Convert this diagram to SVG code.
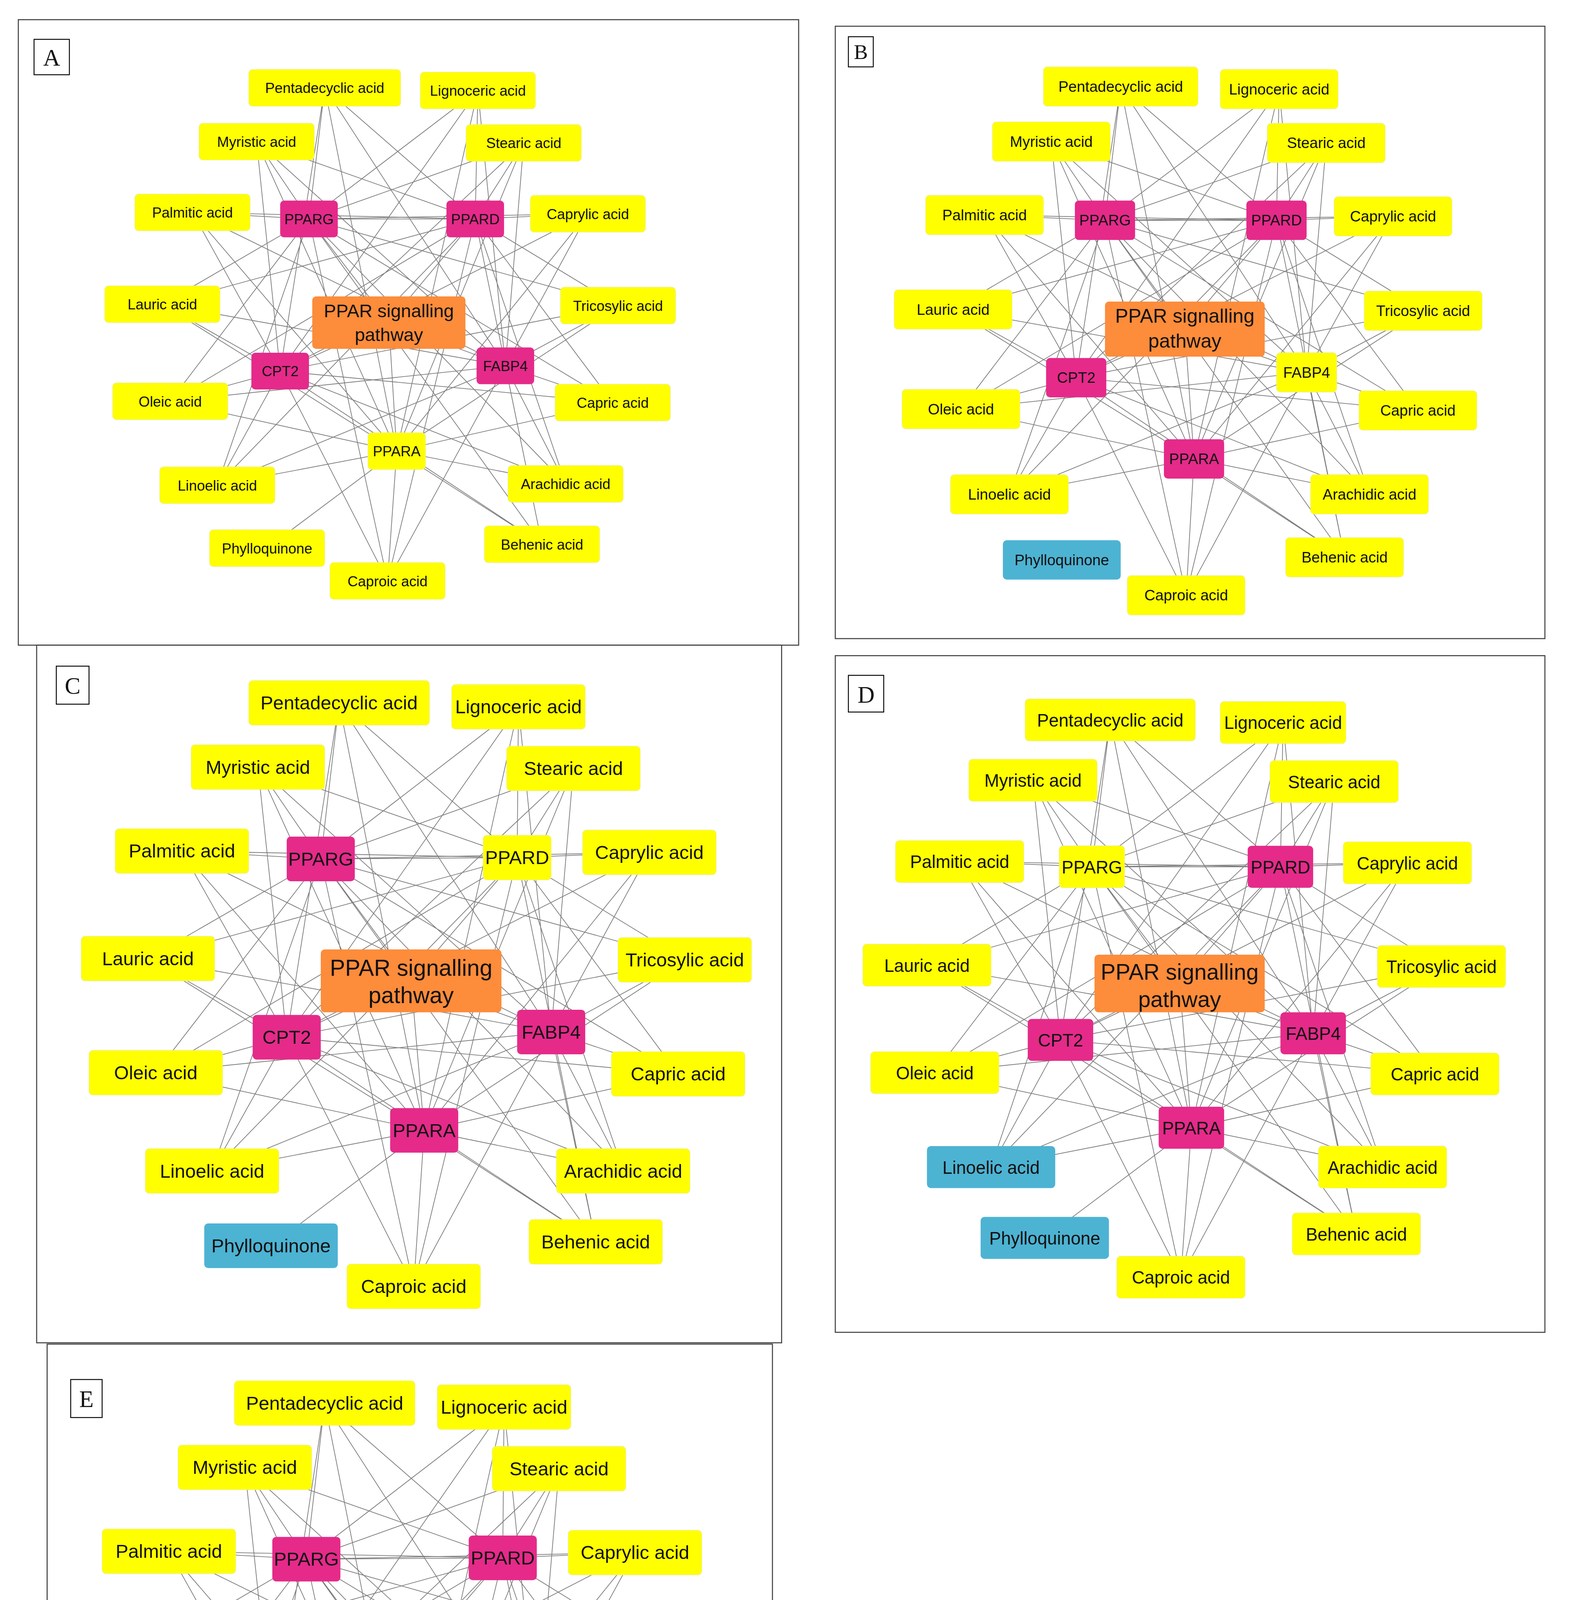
<svg xmlns="http://www.w3.org/2000/svg" width="4021" height="5264" viewBox="0 0 4021 5264">
<style>
.fr{fill:none;stroke:#444;stroke-width:0.8}
.lb{fill:#fff;stroke:#000;stroke-width:0.7}
.lt{font-family:"Liberation Serif",serif;text-anchor:middle}
.e{fill:none;stroke:#7c7c7c;stroke-width:0.55}
.y{fill:#ffff00;stroke:#eeee88;stroke-width:0.4}
.p{fill:#e52a8a}
.b{fill:#4db3d3}
.o{fill:#fd8c3b}
text{font-family:"Liberation Sans",Arial,sans-serif;text-anchor:middle;fill:#111}
.sa{font-size:11px}.sb{font-size:11.5px}.sc{font-size:14.5px}.sd{font-size:13.5px}
</style>
<rect width="4021" height="5264" fill="#fff"/>
<g transform="scale(3.351,3.357)">
<g id="frames">
<rect class="fr" x="14" y="15" width="596" height="477"/>
<rect class="fr" x="638" y="20" width="542" height="467"/>
<rect class="fr" x="28" y="492" width="569" height="532"/>
<rect class="fr" x="638" y="500" width="542" height="516"/>
<rect class="fr" x="36" y="1025" width="554" height="531"/>
<rect class="lb" x="26" y="30" width="27" height="27"/><text class="lt" x="39.5" y="50" font-size="18">A</text>
<rect class="lb" x="648" y="28" width="19" height="23"/><text class="lt" x="657.5" y="45" font-size="16">B</text>
<rect class="lb" x="43" y="508" width="25" height="29"/><text class="lt" x="55.5" y="529" font-size="18">C</text>
<rect class="lb" x="648" y="515" width="27" height="28"/><text class="lt" x="661.5" y="536" font-size="18">D</text>
<rect class="lb" x="54" y="1052" width="24" height="29"/><text class="lt" x="66" y="1073" font-size="18">E</text>
</g>
<g id="connectors">
<path class="e" d="M248,67L236,167M248,67L363,167M248,67L214,283M248,67L386,279M248,67L303,344M365,69L236,167M365,69L363,167M365,69L214,283M365,69L386,279M365,69L303,344M196,108L236,167M196,108L363,167M196,108L214,283M196,108L386,279M196,108L303,344M400,109L236,167M400,109L363,167M400,109L214,283M400,109L386,279M400,109L303,344M147,162L236,167M147,162L363,167M147,162L214,283M147,162L386,279M147,162L303,344M449,163L236,167M449,163L363,167M449,163L214,283M449,163L386,279M449,163L303,344M124,232L236,167M124,232L363,167M124,232L214,283M124,232L386,279M124,232L303,344M472,233L236,167M472,233L363,167M472,233L214,283M472,233L386,279M472,233L303,344M130,306L236,167M130,306L363,167M130,306L214,283M130,306L386,279M130,306L303,344M468,307L236,167M468,307L363,167M468,307L214,283M468,307L386,279M468,307L303,344M166,370L236,167M166,370L363,167M166,370L214,283M166,370L386,279M166,370L303,344M432,369L236,167M432,369L363,167M432,369L214,283M432,369L386,279M432,369L303,344M414,415L236,167M414,415L363,167M414,415L214,283M414,415L386,279M414,415L303,344M296,443L236,167M296,443L363,167M296,443L214,283M296,443L386,279M296,443L303,344M204,418L303,344M236,167L363,167M236,167L297,246M363,167L297,246M214,283L297,246M386,279L297,246M303,344L297,246"/>
<path class="e" d="M856,66L844,168M856,66L975,168M856,66L822,288M856,66L998,284M856,66L912,350M977,68L844,168M977,68L975,168M977,68L822,288M977,68L998,284M977,68L912,350M803,108L844,168M803,108L975,168M803,108L822,288M803,108L998,284M803,108L912,350M1013,109L844,168M1013,109L975,168M1013,109L822,288M1013,109L998,284M1013,109L912,350M752,164L844,168M752,164L975,168M752,164L822,288M752,164L998,284M752,164L912,350M1064,165L844,168M1064,165L975,168M1064,165L822,288M1064,165L998,284M1064,165L912,350M728,236L844,168M728,236L975,168M728,236L822,288M728,236L998,284M728,236L912,350M1087,237L844,168M1087,237L975,168M1087,237L822,288M1087,237L998,284M1087,237L912,350M734,312L844,168M734,312L975,168M734,312L822,288M734,312L998,284M734,312L912,350M1083,313L844,168M1083,313L975,168M1083,313L822,288M1083,313L998,284M1083,313L912,350M771,377L844,168M771,377L975,168M771,377L822,288M771,377L998,284M771,377L912,350M1046,377L844,168M1046,377L975,168M1046,377L822,288M1046,377L998,284M1046,377L912,350M1027,425L844,168M1027,425L975,168M1027,425L822,288M1027,425L998,284M1027,425L912,350M906,454L844,168M906,454L975,168M906,454L822,288M906,454L998,284M906,454L912,350M844,168L975,168M844,168L905,251M975,168L905,251M822,288L905,251M998,284L905,251M912,350L905,251"/>
<path class="e" d="M259,536L245,655M259,536L395,654M259,536L219,791M259,536L421,787M259,536L324,862M396,539L245,655M396,539L395,654M396,539L219,791M396,539L421,787M396,539L324,862M197,585L245,655M197,585L395,654M197,585L219,791M197,585L421,787M197,585L324,862M438,586L245,655M438,586L395,654M438,586L219,791M438,586L421,787M438,586L324,862M139,649L245,655M139,649L395,654M139,649L219,791M139,649L421,787M139,649L324,862M496,650L245,655M496,650L395,654M496,650L219,791M496,650L421,787M496,650L324,862M113,731L245,655M113,731L395,654M113,731L219,791M113,731L421,787M113,731L324,862M523,732L245,655M523,732L395,654M523,732L219,791M523,732L421,787M523,732L324,862M119,818L245,655M119,818L395,654M119,818L219,791M119,818L421,787M119,818L324,862M518,819L245,655M518,819L395,654M518,819L219,791M518,819L421,787M518,819L324,862M162,893L245,655M162,893L395,654M162,893L219,791M162,893L421,787M162,893L324,862M476,893L245,655M476,893L395,654M476,893L219,791M476,893L421,787M476,893L324,862M455,947L245,655M455,947L395,654M455,947L219,791M455,947L421,787M455,947L324,862M316,981L245,655M316,981L395,654M316,981L219,791M316,981L421,787M316,981L324,862M207,950L324,862M245,655L395,654M245,655L314,748M395,654L314,748M219,791L314,748M421,787L314,748M324,862L314,748"/>
<path class="e" d="M848,549L834,661M848,549L978,661M848,549L810,793M848,549L1003,788M848,549L910,860M980,551L834,661M980,551L978,661M980,551L810,793M980,551L1003,788M980,551L910,860M789,595L834,661M789,595L978,661M789,595L810,793M789,595L1003,788M789,595L910,860M1019,596L834,661M1019,596L978,661M1019,596L810,793M1019,596L1003,788M1019,596L910,860M733,657L834,661M733,657L978,661M733,657L810,793M733,657L1003,788M733,657L910,860M1075,658L834,661M1075,658L978,661M1075,658L810,793M1075,658L1003,788M1075,658L910,860M708,736L834,661M708,736L978,661M708,736L810,793M708,736L1003,788M708,736L910,860M1101,737L834,661M1101,737L978,661M1101,737L810,793M1101,737L1003,788M1101,737L910,860M714,818L834,661M714,818L978,661M714,818L810,793M714,818L1003,788M714,818L910,860M1096,819L834,661M1096,819L978,661M1096,819L810,793M1096,819L1003,788M1096,819L910,860M757,890L834,661M757,890L978,661M757,890L810,793M757,890L1003,788M757,890L910,860M1056,890L834,661M1056,890L978,661M1056,890L810,793M1056,890L1003,788M1056,890L910,860M1036,941L834,661M1036,941L978,661M1036,941L810,793M1036,941L1003,788M1036,941L910,860M902,974L834,661M902,974L978,661M902,974L810,793M902,974L1003,788M902,974L910,860M798,944L910,860M834,661L978,661M834,661L901,750M978,661L901,750M810,793L901,750M1003,788L901,750M910,860L901,750"/>
<path class="e" d="M248,1070L234,1189M248,1070L384,1188M248,1070L209,1326M248,1070L410,1321M248,1070L313,1396M385,1073L234,1189M385,1073L384,1188M385,1073L209,1326M385,1073L410,1321M385,1073L313,1396M187,1119L234,1189M187,1119L384,1188M187,1119L209,1326M187,1119L410,1321M187,1119L313,1396M427,1120L234,1189M427,1120L384,1188M427,1120L209,1326M427,1120L410,1321M427,1120L313,1396M129,1183L234,1189M129,1183L384,1188M129,1183L209,1326M129,1183L410,1321M129,1183L313,1396M485,1184L234,1189M485,1184L384,1188M485,1184L209,1326M485,1184L410,1321M485,1184L313,1396M102,1266L234,1189M102,1266L384,1188M102,1266L209,1326M102,1266L410,1321M102,1266L313,1396M512,1267L234,1189M512,1267L384,1188M512,1267L209,1326M512,1267L410,1321M512,1267L313,1396M110,1352L234,1189M110,1352L384,1188M110,1352L209,1326M110,1352L410,1321M110,1352L313,1396M507,1353L234,1189M507,1353L384,1188M507,1353L209,1326M507,1353L410,1321M507,1353L313,1396M154,1427L234,1189M154,1427L384,1188M154,1427L209,1326M154,1427L410,1321M154,1427L313,1396M465,1427L234,1189M465,1427L384,1188M465,1427L209,1326M465,1427L410,1321M465,1427L313,1396M443,1481L234,1189M443,1481L384,1188M443,1481L209,1326M443,1481L410,1321M443,1481L313,1396M305,1515L234,1189M305,1515L384,1188M305,1515L209,1326M305,1515L410,1321M305,1515L313,1396M196,1484L313,1396M234,1189L384,1188M234,1189L303,1282M384,1188L303,1282M209,1326L303,1282M410,1321L303,1282M313,1396L303,1282"/>
</g>
<g class="sa">
<g id="A-pentadecyclic"><rect class="y" x="190" y="53" width="116" height="28" rx="3"/><text x="248" y="71">Pentadecyclic acid</text></g>
<g id="A-lignoceric"><rect class="y" x="321" y="55" width="88" height="28" rx="3"/><text x="365" y="73">Lignoceric acid</text></g>
<g id="A-myristic"><rect class="y" x="152" y="94" width="88" height="28" rx="3"/><text x="196" y="112">Myristic acid</text></g>
<g id="A-stearic"><rect class="y" x="356" y="95" width="88" height="28" rx="3"/><text x="400" y="113">Stearic acid</text></g>
<g id="A-palmitic"><rect class="y" x="103" y="148" width="88" height="28" rx="3"/><text x="147" y="166">Palmitic acid</text></g>
<g id="A-caprylic"><rect class="y" x="405" y="149" width="88" height="28" rx="3"/><text x="449" y="167">Caprylic acid</text></g>
<g id="A-lauric"><rect class="y" x="80" y="218" width="88" height="28" rx="3"/><text x="124" y="236">Lauric acid</text></g>
<g id="A-tricosylic"><rect class="y" x="428" y="219" width="88" height="28" rx="3"/><text x="472" y="237">Tricosylic acid</text></g>
<g id="A-oleic"><rect class="y" x="86" y="292" width="88" height="28" rx="3"/><text x="130" y="310">Oleic acid</text></g>
<g id="A-capric"><rect class="y" x="424" y="293" width="88" height="28" rx="3"/><text x="468" y="311">Capric acid</text></g>
<g id="A-linoelic"><rect class="y" x="122" y="356" width="88" height="28" rx="3"/><text x="166" y="374">Linoelic acid</text></g>
<g id="A-arachidic"><rect class="y" x="388" y="355" width="88" height="28" rx="3"/><text x="432" y="373">Arachidic acid</text></g>
<g id="A-phylloquinone"><rect class="y" x="160" y="404" width="88" height="28" rx="3"/><text x="204" y="422">Phylloquinone</text></g>
<g id="A-behenic"><rect class="y" x="370" y="401" width="88" height="28" rx="3"/><text x="414" y="419">Behenic acid</text></g>
<g id="A-caproic"><rect class="y" x="252" y="429" width="88" height="28" rx="3"/><text x="296" y="447">Caproic acid</text></g>
<g id="A-pparg"><rect class="p" x="214" y="153" width="44" height="28" rx="3"/><text x="236" y="171">PPARG</text></g>
<g id="A-ppard"><rect class="p" x="341" y="153" width="44" height="28" rx="3"/><text x="363" y="171">PPARD</text></g>
<g id="A-cpt2"><rect class="p" x="192" y="269" width="44" height="28" rx="3"/><text x="214" y="287">CPT2</text></g>
<g id="A-fabp4"><rect class="p" x="364" y="265" width="44" height="28" rx="3"/><text x="386" y="283">FABP4</text></g>
<g id="A-ppara"><rect class="y" x="281" y="330" width="44" height="28" rx="3"/><text x="303" y="348">PPARA</text></g>
<g id="A-pathway"><rect class="o" x="238.5" y="226" width="117" height="40" rx="3"/><text x="297" y="242" font-size="14">PPAR signalling</text><text x="297" y="260" font-size="14">pathway</text></g>
</g>
<g class="sb">
<g id="B-pentadecyclic"><rect class="y" x="797" y="51" width="118" height="30" rx="3"/><text x="856" y="70">Pentadecyclic acid</text></g>
<g id="B-lignoceric"><rect class="y" x="932" y="53" width="90" height="30" rx="3"/><text x="977" y="72">Lignoceric acid</text></g>
<g id="B-myristic"><rect class="y" x="758" y="93" width="90" height="30" rx="3"/><text x="803" y="112">Myristic acid</text></g>
<g id="B-stearic"><rect class="y" x="968" y="94" width="90" height="30" rx="3"/><text x="1013" y="113">Stearic acid</text></g>
<g id="B-palmitic"><rect class="y" x="707" y="149" width="90" height="30" rx="3"/><text x="752" y="168">Palmitic acid</text></g>
<g id="B-caprylic"><rect class="y" x="1019" y="150" width="90" height="30" rx="3"/><text x="1064" y="169">Caprylic acid</text></g>
<g id="B-lauric"><rect class="y" x="683" y="221" width="90" height="30" rx="3"/><text x="728" y="240">Lauric acid</text></g>
<g id="B-tricosylic"><rect class="y" x="1042" y="222" width="90" height="30" rx="3"/><text x="1087" y="241">Tricosylic acid</text></g>
<g id="B-oleic"><rect class="y" x="689" y="297" width="90" height="30" rx="3"/><text x="734" y="316">Oleic acid</text></g>
<g id="B-capric"><rect class="y" x="1038" y="298" width="90" height="30" rx="3"/><text x="1083" y="317">Capric acid</text></g>
<g id="B-linoelic"><rect class="y" x="726" y="362" width="90" height="30" rx="3"/><text x="771" y="381">Linoelic acid</text></g>
<g id="B-arachidic"><rect class="y" x="1001" y="362" width="90" height="30" rx="3"/><text x="1046" y="381">Arachidic acid</text></g>
<g id="B-phylloquinone"><rect class="b" x="766" y="412" width="90" height="30" rx="3"/><text x="811" y="431">Phylloquinone</text></g>
<g id="B-behenic"><rect class="y" x="982" y="410" width="90" height="30" rx="3"/><text x="1027" y="429">Behenic acid</text></g>
<g id="B-caproic"><rect class="y" x="861" y="439" width="90" height="30" rx="3"/><text x="906" y="458">Caproic acid</text></g>
<g id="B-pparg"><rect class="p" x="821" y="153" width="46" height="30" rx="3"/><text x="844" y="172">PPARG</text></g>
<g id="B-ppard"><rect class="p" x="952" y="153" width="46" height="30" rx="3"/><text x="975" y="172">PPARD</text></g>
<g id="B-cpt2"><rect class="p" x="799" y="273" width="46" height="30" rx="3"/><text x="822" y="292">CPT2</text></g>
<g id="B-fabp4"><rect class="y" x="975" y="269" width="46" height="30" rx="3"/><text x="998" y="288">FABP4</text></g>
<g id="B-ppara"><rect class="p" x="889" y="335" width="46" height="30" rx="3"/><text x="912" y="354">PPARA</text></g>
<g id="B-pathway"><rect class="o" x="844" y="230" width="122" height="42" rx="3"/><text x="905" y="246" font-size="15">PPAR signalling</text><text x="905" y="265" font-size="15">pathway</text></g>
</g>
<g class="sc">
<g id="C-pentadecyclic"><rect class="y" x="190" y="519" width="138" height="34" rx="3"/><text x="259" y="541">Pentadecyclic acid</text></g>
<g id="C-lignoceric"><rect class="y" x="345" y="522" width="102" height="34" rx="3"/><text x="396" y="544">Lignoceric acid</text></g>
<g id="C-myristic"><rect class="y" x="146" y="568" width="102" height="34" rx="3"/><text x="197" y="590">Myristic acid</text></g>
<g id="C-stearic"><rect class="y" x="387" y="569" width="102" height="34" rx="3"/><text x="438" y="591">Stearic acid</text></g>
<g id="C-palmitic"><rect class="y" x="88" y="632" width="102" height="34" rx="3"/><text x="139" y="654">Palmitic acid</text></g>
<g id="C-caprylic"><rect class="y" x="445" y="633" width="102" height="34" rx="3"/><text x="496" y="655">Caprylic acid</text></g>
<g id="C-lauric"><rect class="y" x="62" y="714" width="102" height="34" rx="3"/><text x="113" y="736">Lauric acid</text></g>
<g id="C-tricosylic"><rect class="y" x="472" y="715" width="102" height="34" rx="3"/><text x="523" y="737">Tricosylic acid</text></g>
<g id="C-oleic"><rect class="y" x="68" y="801" width="102" height="34" rx="3"/><text x="119" y="823">Oleic acid</text></g>
<g id="C-capric"><rect class="y" x="467" y="802" width="102" height="34" rx="3"/><text x="518" y="824">Capric acid</text></g>
<g id="C-linoelic"><rect class="y" x="111" y="876" width="102" height="34" rx="3"/><text x="162" y="898">Linoelic acid</text></g>
<g id="C-arachidic"><rect class="y" x="425" y="876" width="102" height="34" rx="3"/><text x="476" y="898">Arachidic acid</text></g>
<g id="C-phylloquinone"><rect class="b" x="156" y="933" width="102" height="34" rx="3"/><text x="207" y="955">Phylloquinone</text></g>
<g id="C-behenic"><rect class="y" x="404" y="930" width="102" height="34" rx="3"/><text x="455" y="952">Behenic acid</text></g>
<g id="C-caproic"><rect class="y" x="265" y="964" width="102" height="34" rx="3"/><text x="316" y="986">Caproic acid</text></g>
<g id="C-pparg"><rect class="p" x="219" y="638" width="52" height="34" rx="3"/><text x="245" y="660">PPARG</text></g>
<g id="C-ppard"><rect class="y" x="369" y="637" width="52" height="34" rx="3"/><text x="395" y="659">PPARD</text></g>
<g id="C-cpt2"><rect class="p" x="193" y="774" width="52" height="34" rx="3"/><text x="219" y="796">CPT2</text></g>
<g id="C-fabp4"><rect class="p" x="395" y="770" width="52" height="34" rx="3"/><text x="421" y="792">FABP4</text></g>
<g id="C-ppara"><rect class="p" x="298" y="845" width="52" height="34" rx="3"/><text x="324" y="867">PPARA</text></g>
<g id="C-pathway"><rect class="o" x="245" y="724" width="138" height="48" rx="3"/><text x="314" y="744" font-size="17.5">PPAR signalling</text><text x="314" y="765" font-size="17.5">pathway</text></g>
</g>
<g class="sd">
<g id="D-pentadecyclic"><rect class="y" x="783" y="533" width="130" height="32" rx="3"/><text x="848" y="554">Pentadecyclic acid</text></g>
<g id="D-lignoceric"><rect class="y" x="932" y="535" width="96" height="32" rx="3"/><text x="980" y="556">Lignoceric acid</text></g>
<g id="D-myristic"><rect class="y" x="740" y="579" width="98" height="32" rx="3"/><text x="789" y="600">Myristic acid</text></g>
<g id="D-stearic"><rect class="y" x="970" y="580" width="98" height="32" rx="3"/><text x="1019" y="601">Stearic acid</text></g>
<g id="D-palmitic"><rect class="y" x="684" y="641" width="98" height="32" rx="3"/><text x="733" y="662">Palmitic acid</text></g>
<g id="D-caprylic"><rect class="y" x="1026" y="642" width="98" height="32" rx="3"/><text x="1075" y="663">Caprylic acid</text></g>
<g id="D-lauric"><rect class="y" x="659" y="720" width="98" height="32" rx="3"/><text x="708" y="741">Lauric acid</text></g>
<g id="D-tricosylic"><rect class="y" x="1052" y="721" width="98" height="32" rx="3"/><text x="1101" y="742">Tricosylic acid</text></g>
<g id="D-oleic"><rect class="y" x="665" y="802" width="98" height="32" rx="3"/><text x="714" y="823">Oleic acid</text></g>
<g id="D-capric"><rect class="y" x="1047" y="803" width="98" height="32" rx="3"/><text x="1096" y="824">Capric acid</text></g>
<g id="D-linoelic"><rect class="b" x="708" y="874" width="98" height="32" rx="3"/><text x="757" y="895">Linoelic acid</text></g>
<g id="D-arachidic"><rect class="y" x="1007" y="874" width="98" height="32" rx="3"/><text x="1056" y="895">Arachidic acid</text></g>
<g id="D-phylloquinone"><rect class="b" x="749" y="928" width="98" height="32" rx="3"/><text x="798" y="949">Phylloquinone</text></g>
<g id="D-behenic"><rect class="y" x="987" y="925" width="98" height="32" rx="3"/><text x="1036" y="946">Behenic acid</text></g>
<g id="D-caproic"><rect class="y" x="853" y="958" width="98" height="32" rx="3"/><text x="902" y="979">Caproic acid</text></g>
<g id="D-pparg"><rect class="y" x="809" y="645" width="50" height="32" rx="3"/><text x="834" y="666">PPARG</text></g>
<g id="D-ppard"><rect class="p" x="953" y="645" width="50" height="32" rx="3"/><text x="978" y="666">PPARD</text></g>
<g id="D-cpt2"><rect class="p" x="785" y="777" width="50" height="32" rx="3"/><text x="810" y="798">CPT2</text></g>
<g id="D-fabp4"><rect class="p" x="978" y="772" width="50" height="32" rx="3"/><text x="1003" y="793">FABP4</text></g>
<g id="D-ppara"><rect class="p" x="885" y="844" width="50" height="32" rx="3"/><text x="910" y="865">PPARA</text></g>
<g id="D-pathway"><rect class="o" x="836" y="728" width="130" height="44" rx="3"/><text x="901" y="747" font-size="17">PPAR signalling</text><text x="901" y="768" font-size="17">pathway</text></g>
</g>
<g class="sc">
<g id="E-pentadecyclic"><rect class="y" x="179" y="1053" width="138" height="34" rx="3"/><text x="248" y="1075">Pentadecyclic acid</text></g>
<g id="E-lignoceric"><rect class="y" x="334" y="1056" width="102" height="34" rx="3"/><text x="385" y="1078">Lignoceric acid</text></g>
<g id="E-myristic"><rect class="y" x="136" y="1102" width="102" height="34" rx="3"/><text x="187" y="1124">Myristic acid</text></g>
<g id="E-stearic"><rect class="y" x="376" y="1103" width="102" height="34" rx="3"/><text x="427" y="1125">Stearic acid</text></g>
<g id="E-palmitic"><rect class="y" x="78" y="1166" width="102" height="34" rx="3"/><text x="129" y="1188">Palmitic acid</text></g>
<g id="E-caprylic"><rect class="y" x="434" y="1167" width="102" height="34" rx="3"/><text x="485" y="1189">Caprylic acid</text></g>
<g id="E-lauric"><rect class="y" x="51" y="1249" width="102" height="34" rx="3"/><text x="102" y="1271">Lauric acid</text></g>
<g id="E-tricosylic"><rect class="y" x="461" y="1250" width="102" height="34" rx="3"/><text x="512" y="1272">Tricosylic acid</text></g>
<g id="E-oleic"><rect class="b" x="59" y="1335" width="102" height="34" rx="3"/><text x="110" y="1357">Oleic acid</text></g>
<g id="E-capric"><rect class="y" x="456" y="1336" width="102" height="34" rx="3"/><text x="507" y="1358">Capric acid</text></g>
<g id="E-linoelic"><rect class="b" x="103" y="1410" width="102" height="34" rx="3"/><text x="154" y="1432">Linoelic acid</text></g>
<g id="E-arachidic"><rect class="y" x="414" y="1410" width="102" height="34" rx="3"/><text x="465" y="1432">Arachidic acid</text></g>
<g id="E-phylloquinone"><rect class="b" x="145" y="1467" width="102" height="34" rx="3"/><text x="196" y="1489">Phylloquinone</text></g>
<g id="E-behenic"><rect class="y" x="392" y="1464" width="102" height="34" rx="3"/><text x="443" y="1486">Behenic acid</text></g>
<g id="E-caproic"><rect class="y" x="254" y="1498" width="102" height="34" rx="3"/><text x="305" y="1520">Caproic acid</text></g>
<g id="E-pparg"><rect class="p" x="208" y="1172" width="52" height="34" rx="3"/><text x="234" y="1194">PPARG</text></g>
<g id="E-ppard"><rect class="p" x="358" y="1171" width="52" height="34" rx="3"/><text x="384" y="1193">PPARD</text></g>
<g id="E-cpt2"><rect class="y" x="183" y="1309" width="52" height="34" rx="3"/><text x="209" y="1331">CPT2</text></g>
<g id="E-fabp4"><rect class="p" x="384" y="1304" width="52" height="34" rx="3"/><text x="410" y="1326">FABP4</text></g>
<g id="E-ppara"><rect class="p" x="287" y="1379" width="52" height="34" rx="3"/><text x="313" y="1401">PPARA</text></g>
<g id="E-pathway"><rect class="o" x="234" y="1258" width="138" height="48" rx="3"/><text x="303" y="1278" font-size="17.5">PPAR signalling</text><text x="303" y="1299" font-size="17.5">pathway</text></g>
</g>
</g>
</svg>
